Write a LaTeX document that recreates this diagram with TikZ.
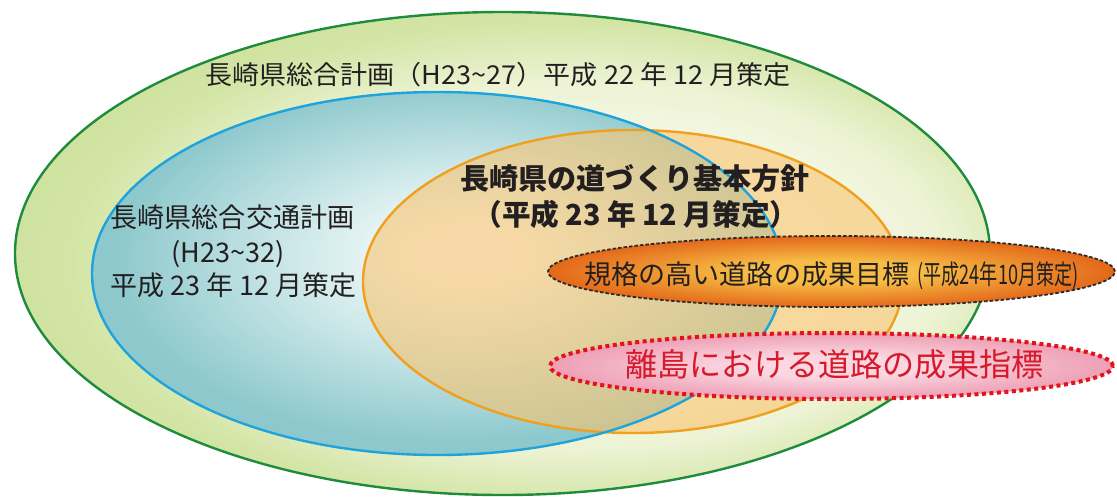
\documentclass[tikz,border=0pt]{standalone}
\usepackage{fontspec}
\usepackage{graphicx}
\usetikzlibrary{shapes.geometric}
\newfontfamily\jp{Noto Sans CJK JP}
\definecolor{gA}{HTML}{F7F9EA}
\definecolor{gM}{HTML}{EDF3D4}
\definecolor{gB}{HTML}{D3E5A6}
\definecolor{gC}{HTML}{C8DE94}
\definecolor{grnbd}{HTML}{1E8C3C}
\definecolor{bA}{HTML}{F4FAFA}
\definecolor{bM}{HTML}{CFE9EA}
\definecolor{bB}{HTML}{8CC8CC}
\definecolor{bluebd}{HTML}{1FA3DC}
\definecolor{orfill}{HTML}{F8C46E}
\definecolor{orbd}{HTML}{F0A01E}
\definecolor{oA}{HTML}{F6BC45}
\definecolor{oB}{HTML}{E4681A}
\definecolor{dashbd}{HTML}{2B2B2B}
\definecolor{pA}{HTML}{FAD7E1}
\definecolor{pB}{HTML}{EE9FB5}
\definecolor{redbd}{HTML}{E1141C}
\definecolor{redtxt}{HTML}{D61A2B}
\definecolor{txt}{HTML}{231F20}
\pgfdeclareradialshading{greensh}{\pgfpoint{6bp}{-2bp}}{color(0bp)=(gA); color(12bp)=(gA); color(19bp)=(gM); color(25bp)=(gB); color(32bp)=(gC); color(50bp)=(gC)}
\pgfdeclareradialshading{bluesh}{\pgfpoint{2.5bp}{3bp}}{color(0bp)=(bA); color(4bp)=(bA); color(12bp)=(bM); color(25bp)=(bB); color(50bp)=(bB)}
\pgfdeclareradialshading{orsh}{\pgfpoint{0bp}{0bp}}{color(0bp)=(oA); color(8bp)=(oA); color(25bp)=(oB); color(50bp)=(oB)}
\pgfdeclareradialshading{pinksh}{\pgfpoint{0bp}{0bp}}{color(0bp)=(pA); color(8bp)=(pA); color(25bp)=(pB); color(50bp)=(pB)}
\newcommand\fitbox[3]{\resizebox*{#1pt}{#2pt}{\rule[-.2em]{0pt}{1.2em}#3}}
\begin{document}
\begin{tikzpicture}[x=1pt,y=-1pt,
  every node/.style={inner sep=0pt, outer sep=0pt},
  lbl/.style={text=txt, font=\jp},
  area/.style={ellipse, inner sep=0pt, line width=2.4pt},
  subarea/.style={ellipse, inner sep=0pt}
]
\useasboundingbox (0,0) rectangle (1117,496);
% nested plans
\node[area, shade, shading=greensh, draw=grnbd, minimum width=975pt, minimum height=483pt] (plan) at (502.5,253.5) {};
\node[area, shade, shading=bluesh, minimum width=691pt, minimum height=363pt] (traffic) at (437.5,273.5) {};
\node[area, fill=orfill, fill opacity=0.6, draw=orbd, minimum width=540pt, minimum height=303pt] (policy) at (633,281.5) {};
\draw[line width=2.4pt, draw=bluebd] (traffic.center) ellipse [x radius=345.5pt, y radius=181.5pt];
% labels
\node[lbl] (planlbl) at (498,74) {\fitbox{585}{31.2}{長崎県総合計画（H23\string~27）平成 22 年 12 月策定}};
\node[lbl] (trafficA) at (232.5,217) {\fitbox{244}{32.4}{長崎県総合交通計画}};
\node[lbl] (trafficB) at (228,252) {\fitbox{113}{32.4}{(H23\string~32)}};
\node[lbl] (trafficC) at (233.5,284.5) {\fitbox{246}{32.4}{平成 23 年 12 月策定}};
\node[lbl, font=\jp\bfseries] (policyA) at (635,178) {\fitbox{349}{34.8}{長崎県の道づくり基本方針}};
\node[lbl, font=\jp\bfseries] (policyB) at (636,214) {\fitbox{325}{34.8}{（平成 23 年 12 月策定）}};
% targets
\node[subarea, shade, shading=orsh, draw=dashbd, line width=1.8pt, dash pattern=on 3.5pt off 2pt, minimum width=567pt, minimum height=71pt] (goals) at (831.5,271.5) {};
\node[lbl] (goalslbl) at (831.5,273.5) {\fitbox{325}{32.4}{規格の高い道路の成果目標}\hspace{8pt}\fitbox{161}{32.4}{(平成24年10月策定)}};
\node[subarea, shade, shading=pinksh, draw=redbd, line width=4pt, dash pattern=on 4pt off 3.5pt, minimum width=563pt, minimum height=66pt] (islands) at (831.5,366) {};
\node[text=redtxt, font=\jp] (islandslbl) at (834.5,364) {\fitbox{418}{38.4}{離島における道路の成果指標}};
\end{tikzpicture}
\end{document}
